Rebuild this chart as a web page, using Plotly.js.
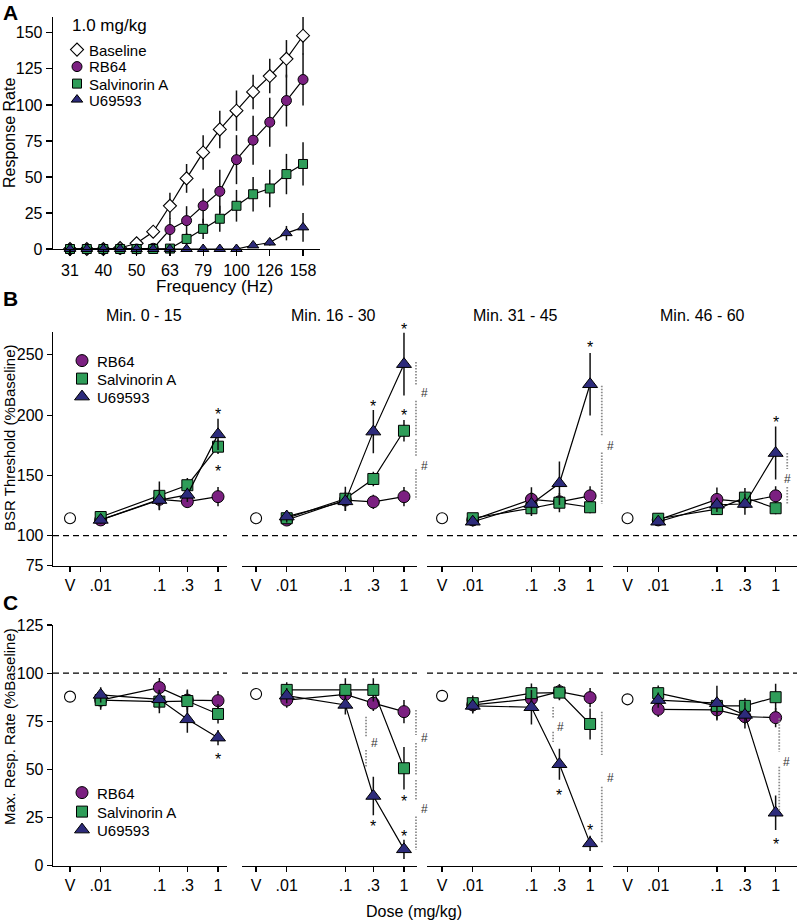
<!DOCTYPE html>
<html><head><meta charset="utf-8">
<script src="https://cdn.plot.ly/plotly-3.0.1.min.js"></script>
<style>html,body{margin:0;padding:0;background:#fff;}#chart{width:798px;height:920px;}</style>
</head><body><div id="chart"></div>
<script>
// ---------------- DATA ----------------
// Panel A: frequency-rate curves at 1.0 mg/kg
const freqHz = [31.6,35.5,39.8,44.7,50.1,56.2,63.1,70.8,79.4,89.1,100,112.2,125.9,141.3,158.5];
const freqTickVals = [31.6,39.8,50.1,63.1,79.4,100,125.9,158.5];
const freqTickText = ['31','40','50','63','79','100','126','158'];
const rateBaseline    = [0,0,0,0.7,4,12,30,49,67,83,96,109,120,132,148];
const rateBaselineErr = [0,0,0,0.5,1.5,3,9,10,12,13,14,12,12,13,13];
const rateRB64        = [0,0,0,0,0,0.5,13.5,19.7,30,40,62,75.5,88,103,117.6];
const rateRB64Err     = [0,0,0,0,0,0.5,8,10,12,15,17,17,17,18,18];
const rateSalvA       = [0,0,0,0,0,0,0.3,7,14,21,30,38,42,52,59];
const rateSalvAErr    = [0,0,0,0,0,0,0.3,4,7,9,11,12,13,14,15];
const rateU69         = [0,0,0,0,0,0,0,0,0,0,0,2.5,4.5,11,15];
const rateU69Err      = [0,0,0,0,0,0,0,0,0,0,0,1.5,2,5,10];

// Panels B & C: dose-effect per time bin
const timeBins = ['Min. 0 - 15','Min. 16 - 30','Min. 31 - 45','Min. 46 - 60'];
const doses = [0.01, 0.1, 0.3, 1];
const vehicleDose = 0.003;            // plotting stand-in for "V"
const doseTickText = ['V','.01','.1','.3','1'];

// B: BSR threshold (% baseline), one row per time bin
const thrVehicle = [114.4,114.4,114.4,114.4];
const thrVehicleErr = [3,3,3,3];
const thrRB64 = [[113,130.1,128.2,132.3],[112.9,129.5,128,132.3],[113,130.1,128,133],[113,130,128,133]];
const thrRB64Err = [[4,6,5,8],[3,5,6,8],[3,10,5,8],[3,10,5,8]];
const thrSalvA = [[115.4,133,141.8,173.8],[114.4,130.6,147,187],[114.4,122.7,127.3,123.5],[114,122,131.5,122.7]];
const thrSalvAErr = [[4,12,6,6],[3,10,6,9],[3,5,8,5],[3,5,8,5]];
const thrU69 = [[113,129.5,133.8,184],[115.8,128.4,186.3,242.3],[111.5,126.2,143.4,225.6],[111.5,125.6,126.2,168.5]];
const thrU69Err = [[3,8,6,13],[5,8,18,26],[4,10,18,26],[3,6,9,22]];

// C: max response rate (% baseline)
const mrrVehicle = [87.8,89.2,88.2,86.4];
const mrrVehicleErr = [2,2,2,2];
const mrrRB64 = [[86,92.5,86,85.7],[86,89,84.4,80],[83.5,86.6,90.4,87.3],[81.2,80.9,77.4,76.9]];
const mrrRB64Err = [[4,5,5,5],[4,5,4,6],[4,5,4,5],[4,5,4,5]];
const mrrSalvA = [[86,85.2,85.5,78.8],[91.3,91.3,91.3,50.6],[84.4,89.6,89.9,73.6],[89.6,83,83,87.5]];
const mrrSalvAErr = [[5,6,6,5],[4,6,6,11],[4,5,4,8],[4,4,4,7]];
const mrrU69 = [[88.7,86.4,76,66.5],[88.3,83.5,36.2,8.5],[83,82.3,52.7,11.6],[86,84.4,78.3,27.5]];
const mrrU69Err = [[4,5,7,4],[4,5,10,5],[4,9,8,4],[4,9,7,9]];

// significance marks: [time bin, dose, value]
const starsB = [[0,1,205],[0,1,157],[1,0.3,211],[1,1,275],[1,1,203.5],[2,1,260],[3,1,198]];
const starsC = [[0,1,57.5],[1,0.3,22.9],[1,1,17.7],[1,1,35.8],[2,0.3,39.3],[2,1,21.1],[3,1,13.7]];
// drug-difference brackets: [time bin, dose, dotted segment ends, '#' value]
const hashB = [[1,1,[[244,225],[212,182]],218.4],[1,1,[[180,165],[155,130]],158],
               [2,1,[[224.3,182.1],[168.9,126.2]],174.7],[3,1,[[168.6,155.3],[140.4,125.4]],147]];
const hashC = [[1,0.3,[[77.4,67],[60.1,51.4]],63.6],[1,1,[[80.9,67.9],[63.7,47.1]],66.5],[1,1,[[44.5,34.1],[25.5,8.1]],29.5],
               [2,0.3,[[82.4,76.7],[69.5,64.3]],72.2],[2,1,[[80,57.5],[41,11.6]],45.4],[3,1,[[76.6,59.2],[51.4,28.9]],54]];

// ---------------- STYLE / LAYOUT ----------------
const FONT = 'Liberation Sans, Arial, Helvetica, sans-serif';
const W = 798, H = 920;
const px = v => v / W;
const py = v => 1 - v / H;
const COL = {RB64:'#7B2081', SalvA:'#2F9D59', U69:'#2D2B7B'};
const ERR = () => ({type:'data', visible:true, color:'#111', thickness:1.5, width:0});
const LINE = {color:'#000', width:1.2};
const lg = Math.log10;

const subDomPx = [[53,227],[242,417],[427,603],[613,797]];
const subRange = [[-2.813,0.153],[-2.763,0.222],[-2.78,0.22],[-2.77,0.364]];
// bracket placement (pixels from the dose tick) and '#' offset from bracket line
const bracketPxB = [12, 12, 11.7, 11.6], hashPxB = [8.5, 8.5, 8.3, 0];
const bracketPxC = [-7.3, 12, 12, -6.3, 11.7, 3.6], hashPxC = [8.3, 9, 9, 7.3, 8.3, 7.4];

const traces = [];
const shapes = [];
const annotations = [];

// Panel A
const mA = {
  base: {symbol:'diamond', size:10, color:'#fff', line:{color:'#000', width:1.1}},
  rb:   {symbol:'circle', size:10, color:COL.RB64, line:{color:'#000', width:1}},
  sa:   {symbol:'square', size:9, color:COL.SalvA, line:{color:'#000', width:1}},
  u:    {symbol:'triangle-up', size:10, color:COL.U69, line:{color:'#000', width:1}}
};
[[rateBaseline,rateBaselineErr,mA.base],[rateRB64,rateRB64Err,mA.rb],[rateSalvA,rateSalvAErr,mA.sa],[rateU69,rateU69Err,mA.u]]
.forEach(([y,e,m]) => traces.push({x:freqHz, y:y, error_y:Object.assign(ERR(), {array:e}), mode:'lines+markers',
  line:LINE, marker:m, xaxis:'x', yaxis:'y', cliponaxis:false, showlegend:false, hoverinfo:'skip'}));

// Panels B, C
const mB = {
  rb: {symbol:'circle', size:12, color:COL.RB64, line:{color:'#000', width:1}},
  sa: {symbol:'square', size:11, color:COL.SalvA, line:{color:'#000', width:1}},
  u:  {symbol:'triangle-up', size:13, color:COL.U69, line:{color:'#000', width:1}},
  veh:{symbol:'circle', size:11, color:'#fff', line:{color:'#000', width:1.1}}
};
const doseX = doses.map(lg);
function addPanel(firstX, yId, veh, vehE, rb, rbE, sa, saE, u, uE) {
  for (let k = 0; k < 4; k++) {
    const xa = 'x' + (firstX + k);
    traces.push({x:[lg(vehicleDose)], y:[veh[k]], error_y:Object.assign(ERR(), {array:[vehE[k]]}), mode:'markers',
      marker:mB.veh, xaxis:xa, yaxis:yId, cliponaxis:false, showlegend:false, hoverinfo:'skip'});
    [[rb,rbE,mB.rb],[sa,saE,mB.sa],[u,uE,mB.u]].forEach(([y,e,m]) => traces.push({x:doseX, y:y[k],
      error_y:Object.assign(ERR(), {array:e[k]}), mode:'lines+markers', line:LINE, marker:m,
      xaxis:xa, yaxis:yId, cliponaxis:false, showlegend:false, hoverinfo:'skip'}));
    shapes.push({type:'line', xref:xa + ' domain', x0:0, x1:1, yref:yId, y0:100, y1:100, layer:'below',
      line:{color:'#000', width:1.2, dash:'6px,4px'}});
  }
}
addPanel(2, 'y2', thrVehicle, thrVehicleErr, thrRB64, thrRB64Err, thrSalvA, thrSalvAErr, thrU69, thrU69Err);
addPanel(6, 'y6', mrrVehicle, mrrVehicleErr, mrrRB64, mrrRB64Err, mrrSalvA, mrrSalvAErr, mrrU69, mrrU69Err);

function addMarks(firstX, yId, yRange, pxPerUnit, stars, hashes, bPx, hPx) {
  stars.forEach(([k, d, v]) => {
    const vc = Math.min(v, yRange[1]);
    annotations.push({xref:'x' + (firstX + k), yref:yId, x:lg(d), y:vc, text:'*',
      showarrow:false, font:{family:FONT, size:16, color:'#000'}, xanchor:'center', yanchor:'middle',
      yshift:-5 + (v - vc) * pxPerUnit});
  });
  hashes.forEach(([k, d, segs, hy], i) => {
    const xa = 'x' + (firstX + k);
    segs.forEach(([a, b]) => shapes.push({type:'line', xref:xa, yref:yId, xsizemode:'pixel', xanchor:lg(d),
      x0:bPx[i], x1:bPx[i], y0:a, y1:b, line:{color:'#8c8c8c', width:1.8, dash:'1.5px,1.5px'}}));
    annotations.push({xref:xa, yref:yId, x:lg(d), y:hy, xshift:bPx[i] + hPx[i], text:'#', showarrow:false,
      font:{family:FONT, size:12, color:'#333'}, xanchor:'center', yanchor:'middle'});
  });
}
addMarks(2, 'y2', [75, 269], 1.204, starsB, hashB, bracketPxB, hashPxB);
addMarks(6, 'y6', [0, 125], 1.925, starsC, hashC, bracketPxC, hashPxC);

// legends: symbols via native legends, labels as text
const legendItems = [
  {m:mA.base, sx:77, sy:50, tx:87, label:'Baseline'},
  {m:mA.rb,   sx:77, sy:67, tx:87, label:'RB64'},
  {m:mA.sa,   sx:77, sy:84, tx:87, label:'Salvinorin A'},
  {m:mA.u,    sx:77, sy:100, tx:87, label:'U69593'},
  {m:mB.rb,   sx:82, sy:361, tx:95, label:'RB64'},
  {m:mB.sa,   sx:82, sy:379, tx:95, label:'Salvinorin A'},
  {m:mB.u,    sx:82, sy:397, tx:95, label:'U69593'},
  {m:mB.rb,   sx:82, sy:793, tx:95, label:'RB64'},
  {m:mB.sa,   sx:82, sy:812, tx:95, label:'Salvinorin A'},
  {m:mB.u,    sx:82, sy:830, tx:95, label:'U69593'}
];
const LEG_DX = 20;
const layoutLegends = {};
legendItems.forEach((it, i) => {
  const id = i === 0 ? 'legend' : 'legend' + (i + 1);
  traces.push({x:[null], y:[null], mode:'markers', marker:it.m, name:'', legend:id, showlegend:true,
    xaxis:'x', yaxis:'y', hoverinfo:'skip'});
  layoutLegends[id] = {x:px(it.sx - LEG_DX), y:py(it.sy), xanchor:'left', yanchor:'middle',
    bgcolor:'rgba(0,0,0,0)', borderwidth:0, font:{family:FONT, size:14}};
  annotations.push({xref:'paper', yref:'paper', x:px(it.tx), y:py(it.sy), text:it.label, showarrow:false,
    xanchor:'left', yanchor:'middle', font:{family:FONT, size:15, color:'#000'}});
});

// texts
function txt(x, y, t, size, opts) {
  annotations.push(Object.assign({xref:'paper', yref:'paper', x:px(x), y:py(y), text:t, showarrow:false,
    xanchor:'center', yanchor:'middle', font:{family:FONT, size:size, color:'#000'}}, opts || {}));
}
txt(10, 12, '<b>A</b>', 21);
txt(10, 298, '<b>B</b>', 21);
txt(10, 602, '<b>C</b>', 21);
txt(70, 26, '1.0 mg/kg', 17, {xanchor:'left'});
txt(9, 133, 'Response Rate', 16, {textangle:-90});
txt(214, 286, 'Frequency (Hz)', 17);
txt(9, 438, 'BSR Threshold (%Baseline)', 15, {textangle:-90});
txt(9, 727, 'Max. Resp. Rate (%Baseline)', 15, {textangle:-90});
txt(414, 911, 'Dose (mg/kg)', 16);
const titleX = [144, 333, 515, 702];
timeBins.forEach((t, k) => txt(titleX[k], 315, t, 16));

// axes
const axBase = {showline:true, linecolor:'#000', linewidth:1.3, ticks:'outside', ticklen:5, tickwidth:1.2,
  tickcolor:'#000', showgrid:false, zeroline:false, tickfont:{family:FONT, size:16, color:'#000'}, fixedrange:true};
const layout = Object.assign({
  width:W, height:H, margin:{l:0, r:0, t:0, b:0}, paper_bgcolor:'#fff', plot_bgcolor:'rgba(0,0,0,0)',
  font:{family:FONT, color:'#000'}, shapes:shapes, annotations:annotations,
  xaxis:Object.assign({}, axBase, {domain:[px(53), px(320)], type:'log', range:[1.4486, 2.251], anchor:'y',
    tickmode:'array', tickvals:freqTickVals, ticktext:freqTickText, ticklen:6}),
  yaxis:Object.assign({}, axBase, {domain:[py(249), py(17)], range:[0, 161], anchor:'x',
    tickmode:'array', tickvals:[0,25,50,75,100,125,150], ticklen:6}),
  yaxis2:Object.assign({}, axBase, {domain:[py(565.7), py(332)], range:[75, 269], anchor:'x2',
    tickmode:'array', tickvals:[75,100,150,200,250]}),
  yaxis6:Object.assign({}, axBase, {domain:[py(865.7), py(625)], range:[0, 125], anchor:'x6',
    tickmode:'array', tickvals:[0,25,50,75,100,125]})
}, layoutLegends);
const doseTickVals = [vehicleDose].concat(doses).map(lg);
for (let k = 0; k < 4; k++) {
  [[2,'y2'],[6,'y6']].forEach(([f, yId]) => {
    layout['xaxis' + (f + k)] = Object.assign({}, axBase, {domain:[px(subDomPx[k][0]), px(subDomPx[k][1])],
      range:subRange[k], anchor:yId, tickmode:'array', tickvals:doseTickVals, ticktext:doseTickText});
  });
}

Plotly.newPlot('chart', traces, layout, {staticPlot:true, displayModeBar:false});
</script></body></html>
